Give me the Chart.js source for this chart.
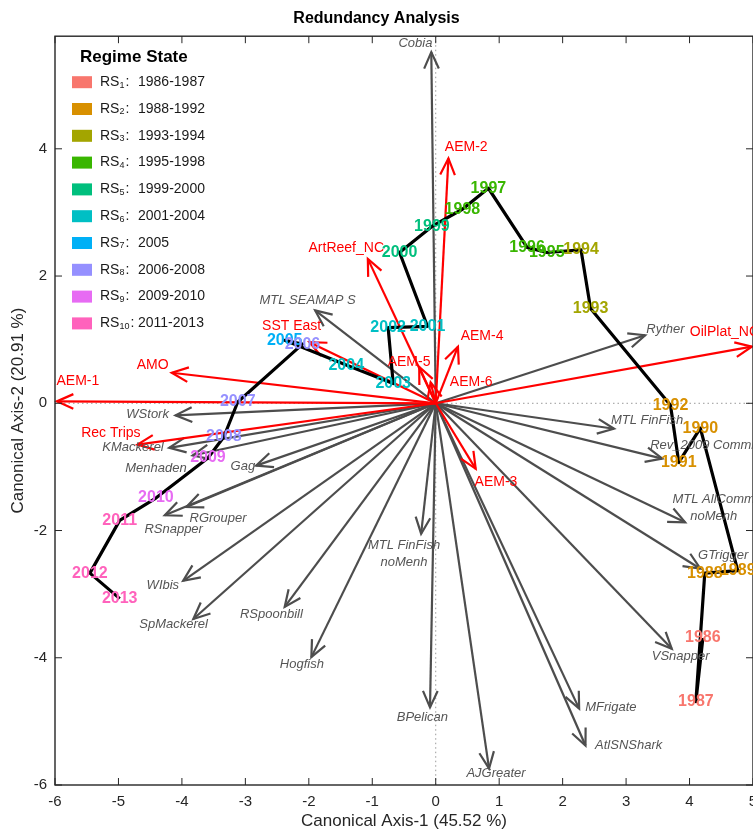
<!DOCTYPE html>
<html>
<head>
<meta charset="utf-8">
<title>Redundancy Analysis</title>
<script src="https://cdn.jsdelivr.net/npm/chart.js@4.4.0/dist/chart.umd.min.js"></script>
<style>
    html, body { margin: 0; padding: 0; background: #fff; }
    #rdaChart { display: block; }
</style>
</head>
<body>
<canvas id="rdaChart" width="753" height="834"></canvas>
<script>
/* ========= DATA ========= */
var years = [1986, 1987, 1988, 1989, 1990, 1991, 1992, 1993, 1994, 1995, 1996, 1997, 1998, 1999,
             2000, 2001, 2002, 2003, 2004, 2005, 2006, 2007, 2008, 2009, 2010, 2011, 2012, 2013];
var yearAxis1 = [4.21, 4.10, 4.24, 4.76, 4.17, 3.83, 3.70, 2.44, 2.29, 1.75, 1.44, 0.83, 0.42, -0.06,
                 -0.57, -0.13, -0.75, -0.67, -1.41, -2.38, -2.10, -3.12, -3.34, -3.59, -4.41, -4.98, -5.45, -4.98];
var yearAxis2 = [-3.69, -4.69, -2.67, -2.63, -0.39, -0.93, -0.03, 1.49, 2.41, 2.37, 2.45, 3.38, 3.05, 2.78,
                 2.37, 1.21, 1.19, 0.31, 0.60, 0.99, 0.93, 0.02, -0.53, -0.86, -1.49, -1.84, -2.67, -3.07];
var yearRegime = [0, 0, 1, 1, 1, 1, 1, 2, 2, 3, 3, 3, 3, 4, 4, 5, 5, 5, 5, 6, 7, 7, 7, 8, 8, 9, 9, 9];

var regimeIds = ['1', '2', '3', '4', '5', '6', '7', '8', '9', '10'];
var regimeSpans = ['1986-1987', '1988-1992', '1993-1994', '1995-1998', '1999-2000',
                   '2001-2004', '2005', '2006-2008', '2009-2010', '2011-2013'];
var regimeColors = ['#F8766D', '#D89000', '#A3A500', '#39B600', '#00BF7D',
                    '#00BFC4', '#00B0F6', '#9590FF', '#E76BF3', '#FF62BC'];

// species (response) arrows
var speciesNames = ['Cobia', 'MTL SEAMAP S', 'Ryther', 'MTL FinFish', 'Rev_2009 Comml',
                    'MTL AllComm\nnoMenh', 'GTrigger', 'VSnapper', 'MFrigate', 'AtlSNShark',
                    'AJGreater', 'BPelican', 'MTL FinFish\nnoMenh', 'Hogfish', 'RSpoonbill',
                    'SpMackerel', 'WIbis', 'RSnapper', 'RGrouper', 'Gag', 'Menhaden',
                    'KMackerel', 'WStork'];
var speciesX = [-0.07, -1.90, 3.30, 2.81, 3.57, 3.93, 4.17, 3.72, 2.26, 2.36, 0.84, -0.09, -0.23,
                -1.96, -2.38, -3.82, -3.98, -4.27, -3.93, -2.83, -3.83, -4.20, -4.10];
var speciesY = [5.52, 1.46, 1.07, -0.40, -0.87, -1.87, -2.60, -3.86, -4.80, -5.38, -5.74, -4.78, -2.05,
                -3.99, -3.20, -3.39, -2.79, -1.76, -1.63, -0.98, -0.82, -0.70, -0.19];
var speciesLabelX = [-0.32, -2.02, 3.62, 3.33, 4.20, 4.38, 4.53, 3.86, 2.76, 3.04, 0.95, -0.21, -0.50,
                     -2.11, -2.59, -4.13, -4.30, -4.13, -3.43, -3.04, -4.41, -4.77, -4.54];
var speciesLabelY = [5.66, 1.62, 1.16, -0.27, -0.66, -1.65, -2.39, -3.98, -4.78, -5.38, -5.82, -4.94, -2.36,
                     -4.10, -3.32, -3.47, -2.86, -1.98, -1.81, -0.99, -1.02, -0.69, -0.17];

// environmental (explanatory) arrows
var envNames = ['AEM-1', 'AMO', 'Rec Trips', 'SST East', 'ArtReef_NC', 'AEM-2',
                'AEM-4', 'AEM-5', 'AEM-6', 'AEM-3', 'OilPlat_NC'];
var envX = [-5.97, -4.16, -4.70, -1.99, -1.07, 0.20, 0.35, -0.26, -0.08, 0.63, 4.98];
var envY = [0.03, 0.48, -0.65, 0.96, 2.27, 3.85, 0.89, 0.57, 0.33, -1.03, 0.89];
var envLabelX = [-5.64, -4.46, -5.12, -2.27, -1.41, 0.48, 0.73, -0.42, 0.56, 0.95, 4.55];
var envLabelY = [0.35, 0.60, -0.47, 1.21, 2.44, 4.03, 1.05, 0.64, 0.33, -1.24, 1.12];

var xTickValues = [-6, -5, -4, -3, -2, -1, 0, 1, 2, 3, 4, 5];
var yTickValues = [-6, -4, -2, 0, 2, 4];

/* ========= STYLE ========= */
var GRAY = '#4d4d4d';
var RED = '#ff0000';
var SANS = '"Liberation Sans", Arial, sans-serif';
var NARROW = '"Liberation Sans Narrow", "Liberation Sans", Arial, sans-serif';

/* ========= DATASETS ========= */
var datasets = [];

// trajectory first so it sits on top of the arrows
datasets.push({
    data: years.map(function (yr, i) { return { x: yearAxis1[i], y: yearAxis2[i] }; }),
    showLine: true,
    borderColor: '#000',
    borderWidth: 3.2,
    borderJoinStyle: 'round',
    pointRadius: 0,
    tension: 0
});

envNames.forEach(function (name, i) {
    datasets.push({
        data: [{ x: 0, y: 0 }, { x: envX[i], y: envY[i] }],
        showLine: true,
        isArrow: true,
        borderColor: RED,
        borderWidth: 2.2,
        pointRadius: 0
    });
});

speciesNames.forEach(function (name, i) {
    datasets.push({
        data: [{ x: 0, y: 0 }, { x: speciesX[i], y: speciesY[i] }],
        showLine: true,
        isArrow: true,
        borderColor: GRAY,
        borderWidth: 2.2,
        pointRadius: 0
    });
});

/* ========= PLUGINS ========= */
function drawHead(ctx, x0, y0, x1, y1) {
    var ang = Math.atan2(y1 - y0, x1 - x0);
    var len = 18, spread = 0.42;
    ctx.beginPath();
    ctx.moveTo(x1 - len * Math.cos(ang - spread), y1 - len * Math.sin(ang - spread));
    ctx.lineTo(x1, y1);
    ctx.lineTo(x1 - len * Math.cos(ang + spread), y1 - len * Math.sin(ang + spread));
    ctx.stroke();
}

var rdaPlugin = {
    id: 'rdaDecor',

    beforeDatasetsDraw: function (chart) {
        var ctx = chart.ctx, a = chart.chartArea;
        var xs = chart.scales.x, ys = chart.scales.y;
        var px0 = xs.getPixelForValue(0), py0 = ys.getPixelForValue(0);
        ctx.save();
        ctx.strokeStyle = '#9a9a9a';
        ctx.lineWidth = 1;
        ctx.setLineDash([1.5, 3]);
        ctx.beginPath();
        ctx.moveTo(px0, a.top); ctx.lineTo(px0, a.bottom);
        ctx.moveTo(a.left, py0); ctx.lineTo(a.right, py0);
        ctx.stroke();
        ctx.restore();
    },

    afterDatasetDraw: function (chart, args) {
        var ds = chart.data.datasets[args.index];
        if (!ds.isArrow) return;
        var pts = args.meta.data;
        var ctx = chart.ctx;
        ctx.save();
        ctx.strokeStyle = ds.borderColor;
        ctx.lineWidth = ds.borderWidth;
        ctx.lineJoin = 'miter';
        drawHead(ctx, pts[0].x, pts[0].y, pts[1].x, pts[1].y);
        ctx.restore();
    },

    afterDraw: function (chart) {
        var ctx = chart.ctx, a = chart.chartArea;
        var xs = chart.scales.x, ys = chart.scales.y;
        ctx.save();

        // frame with inward ticks
        ctx.strokeStyle = '#262626';
        ctx.lineWidth = 1.4;
        ctx.strokeRect(a.left, a.top, a.right - a.left, a.bottom - a.top);
        ctx.lineWidth = 1;
        ctx.beginPath();
        xTickValues.forEach(function (v) {
            var px = xs.getPixelForValue(v);
            ctx.moveTo(px, a.bottom); ctx.lineTo(px, a.bottom - 7);
            ctx.moveTo(px, a.top); ctx.lineTo(px, a.top + 7);
        });
        yTickValues.forEach(function (v) {
            var py = ys.getPixelForValue(v);
            ctx.moveTo(a.left, py); ctx.lineTo(a.left + 7, py);
            ctx.moveTo(a.right, py); ctx.lineTo(a.right - 7, py);
        });
        ctx.stroke();

        // arrow labels
        ctx.textAlign = 'center';
        ctx.textBaseline = 'middle';
        ctx.font = 'italic 13px ' + SANS;
        ctx.fillStyle = '#555555';
        speciesNames.forEach(function (name, i) {
            var lines = name.split('\n');
            var px = xs.getPixelForValue(speciesLabelX[i]);
            var py = ys.getPixelForValue(speciesLabelY[i]) - (lines.length - 1) * 8.5;
            lines.forEach(function (ln, k) { ctx.fillText(ln, px, py + k * 17); });
        });
        ctx.font = '14px ' + SANS;
        ctx.fillStyle = RED;
        envNames.forEach(function (name, i) {
            ctx.fillText(name, xs.getPixelForValue(envLabelX[i]), ys.getPixelForValue(envLabelY[i]));
        });

        // year labels
        ctx.font = 'bold 16px ' + SANS;
        years.forEach(function (yr, i) {
            ctx.fillStyle = regimeColors[yearRegime[i]];
            ctx.fillText(String(yr), xs.getPixelForValue(yearAxis1[i]), ys.getPixelForValue(yearAxis2[i]));
        });

        // legend
        ctx.textAlign = 'left';
        ctx.fillStyle = '#000';
        ctx.font = 'bold 17px ' + SANS;
        ctx.fillText('Regime State', a.left + 25, a.top + 21);
        regimeIds.forEach(function (id, i) {
            var cy = a.top + 46 + i * 26.8;
            var x = a.left + 17;
            ctx.fillStyle = regimeColors[i];
            ctx.fillRect(x, cy - 6, 20, 12);
            ctx.fillStyle = '#1a1a1a';
            ctx.font = '14px ' + SANS;
            ctx.fillText('RS', x + 28, cy);
            var w = ctx.measureText('RS').width;
            ctx.font = '9px ' + SANS;
            ctx.fillText(id, x + 28 + w, cy + 3);
            var w2 = ctx.measureText(id).width;
            ctx.font = '14px ' + SANS;
            ctx.fillText(':', x + 29 + w + w2, cy);
            ctx.fillText(regimeSpans[i], x + 66, cy);
        });

        ctx.restore();
    }
};

/* ========= CHART ========= */
new Chart(document.getElementById('rdaChart'), {
    type: 'scatter',
    data: { datasets: datasets },
    plugins: [rdaPlugin],
    options: {
        responsive: false,
        animation: false,
        devicePixelRatio: 1,
        events: [],
        layout: { padding: { left: 0, right: 0, top: 0, bottom: 0 } },
        plugins: {
            legend: { display: false },
            tooltip: { enabled: false },
            title: {
                display: true,
                text: 'Redundancy Analysis',
                color: '#000',
                font: { family: SANS, size: 16, weight: 'bold' },
                padding: { top: 9, bottom: 8 }
            }
        },
        scales: {
            x: {
                type: 'linear',
                position: 'bottom',
                min: -6,
                max: 5,
                grid: { display: false, drawTicks: false },
                border: { display: false },
                afterBuildTicks: function (s) { s.ticks = xTickValues.map(function (v) { return { value: v }; }); },
                afterFit: function (s) { s.height = 49; s.paddingLeft = 0; s.paddingRight = 0; },
                ticks: { color: '#262626', padding: 8, maxRotation: 0, font: { family: NARROW, size: 15 } },
                title: {
                    display: true,
                    text: 'Canonical Axis-1 (45.52 %)',
                    color: '#262626',
                    font: { family: NARROW, size: 17 },
                    padding: { top: 0, bottom: 2 }
                }
            },
            y: {
                type: 'linear',
                position: 'left',
                min: -6,
                max: 5.77,
                grid: { display: false, drawTicks: false },
                border: { display: false },
                afterBuildTicks: function (s) { s.ticks = yTickValues.map(function (v) { return { value: v }; }); },
                afterFit: function (s) { s.width = 55; s.paddingTop = 0; s.paddingBottom = 0; },
                ticks: { color: '#262626', padding: 8, font: { family: NARROW, size: 15 } },
                title: {
                    display: true,
                    text: 'Canonical Axis-2 (20.91 %)',
                    color: '#262626',
                    font: { family: NARROW, size: 17 },
                    padding: { top: 8, bottom: 0 }
                }
            }
        }
    }
});
</script>
</body>
</html>
